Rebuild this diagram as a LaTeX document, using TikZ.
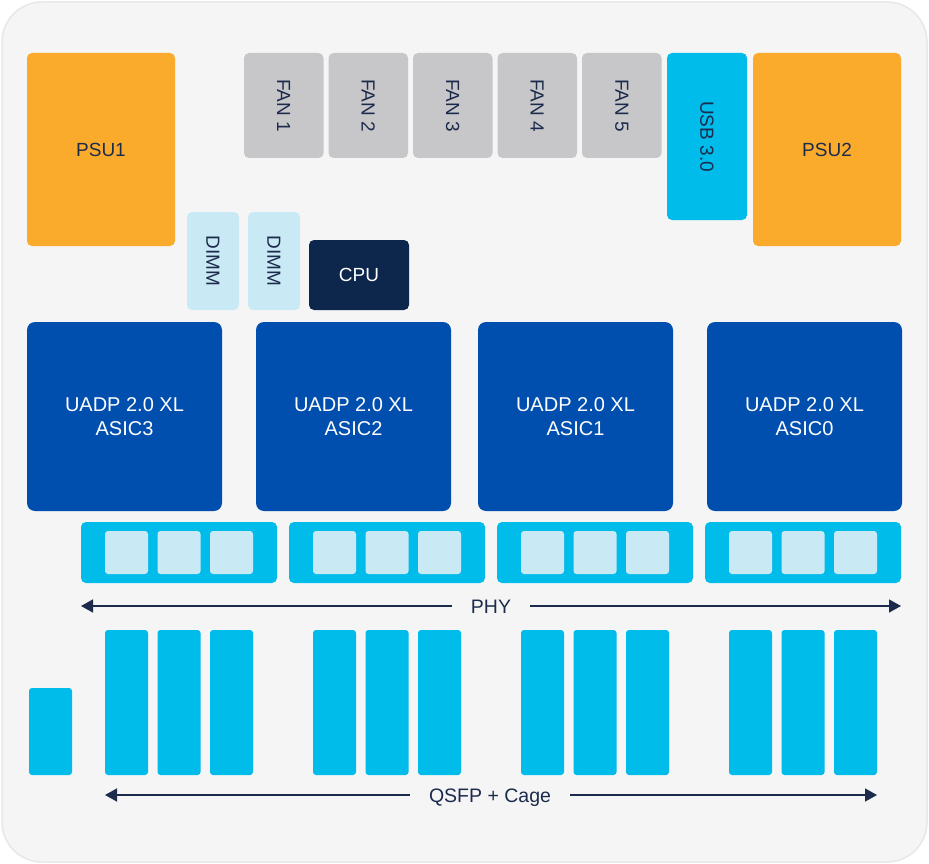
\documentclass[tikz,border=0pt]{standalone}
\usepackage{fontspec}
\setmainfont{Liberation Sans}
\usepackage{graphicx}
\usetikzlibrary{positioning,arrows.meta}
\definecolor{psuorange}{HTML}{FBAB2C}
\definecolor{fangray}{HTML}{C7C7C9}
\definecolor{usbcyan}{HTML}{00BCEB}
\definecolor{dimmblue}{HTML}{C9E9F5}
\definecolor{cpunavy}{HTML}{0D264C}
\definecolor{asicblue}{HTML}{004EAE}
\definecolor{inknavy}{HTML}{1C2B4C}
\definecolor{boardgray}{HTML}{F5F5F5}
\tikzset{
  unit/.style={rounded corners=5pt, inner sep=0pt, outer sep=0pt, anchor=north west,
    font=\fontsize{19}{24}\selectfont, text=inknavy},
  psu/.style={unit, fill=psuorange, minimum width=148, minimum height=193},
  fan/.style={unit, fill=fangray, minimum width=79.5, minimum height=105},
  dimm/.style={unit, fill=dimmblue, minimum width=52, minimum height=98},
  asic/.style={unit, fill=asicblue, text=white, align=center,
    font=\fontsize{20}{24}\selectfont,
    rounded corners=8pt, minimum width=195, minimum height=189},
  phybar/.style={unit, fill=usbcyan, minimum width=196, minimum height=61},
  port/.style={unit, fill=dimmblue, rounded corners=3pt, minimum width=43, minimum height=43},
  cage/.style={unit, fill=usbcyan, rounded corners=3pt, minimum width=43, minimum height=145},
  tag/.style={inner xsep=19pt, inner ysep=0pt, outer sep=0pt, text height=14pt, text depth=0pt,
    font=\fontsize{19.5}{22}\selectfont, text=inknavy},
  bus/.style={draw=inknavy, line width=1.5pt, -{Triangle[length=12pt,width=13pt]}}
}
\begin{document}
\begin{tikzpicture}[x=1pt,y=-1pt]
    \useasboundingbox (0,0) rectangle (929,864);
    \fill[white] (0,0) rectangle (929,864);
    \draw[draw=black!9, line width=1.5pt, fill=boardgray, rounded corners=40pt] (2,2) rectangle (927,862);
    % top row
    \node[psu] (psu1) at (27,53) {PSU1};
    \node[fan] (fan1) at (244,53) {\rotatebox{-90}{FAN 1}};
    \node[fan, right=5pt of fan1] (fan2) {\rotatebox{-90}{FAN 2}};
    \node[fan, right=5pt of fan2] (fan3) {\rotatebox{-90}{FAN 3}};
    \node[fan, right=5pt of fan3] (fan4) {\rotatebox{-90}{FAN 4}};
    \node[fan, right=5pt of fan4] (fan5) {\rotatebox{-90}{FAN 5}};
    \node[unit, fill=usbcyan, minimum width=80, minimum height=167,
          right=5.5pt of fan5.north east, anchor=north west] (usb) {\rotatebox{-90}{USB 3.0}};
    \node[psu, right=6pt of usb.north east, anchor=north west] (psu2) {PSU2};
    % memory and cpu
    \node[dimm] (dimm1) at (187,212) {\rotatebox{-90}{DIMM}};
    \node[dimm, right=9pt of dimm1] (dimm2) {\rotatebox{-90}{DIMM}};
    \node[unit, fill=cpunavy, text=white, minimum width=100, minimum height=70,
          right=9pt of dimm2.south east, anchor=south west] (cpu) {CPU};
    % asics
    \node[asic] (asic3) at (27,322) {UADP 2.0 XL\\ASIC3};
    \node[asic, right=34pt of asic3] (asic2) {UADP 2.0 XL\\ASIC2};
    \node[asic, right=27pt of asic2] (asic1) {UADP 2.0 XL\\ASIC1};
    \node[asic, right=34pt of asic1] (asic0) {UADP 2.0 XL\\ASIC0};
    % phy and cages
    \foreach \n/\x in {3/81,2/289,1/497,0/705}{
        \node[phybar] (phy\n) at (\x,522) {};
        \foreach \j in {0,1,2}{
            \node[port] (port\n\j) at (\x+24+52.5*\j,531) {};
            \node[cage] (cage\n\j) at (\x+24+52.5*\j,630) {};
        }
    }
    \node[cage, minimum height=87] (aux) at (29,688) {};
    % labels with arrows
    \coordinate (phyL) at (81,606);
    \coordinate (phyR) at (901,606);
    \node[tag] (phy) at (491,606) {PHY};
    \draw[bus] (phy) -- (phyL);
    \draw[bus] (phy) -- (phyR);
    \coordinate (qsfpL) at (105,795);
    \coordinate (qsfpR) at (877,795);
    \node[tag] (qsfp) at (490,795) {QSFP + Cage};
    \draw[bus] (qsfp) -- (qsfpL);
    \draw[bus] (qsfp) -- (qsfpR);
\end{tikzpicture}
\end{document}
